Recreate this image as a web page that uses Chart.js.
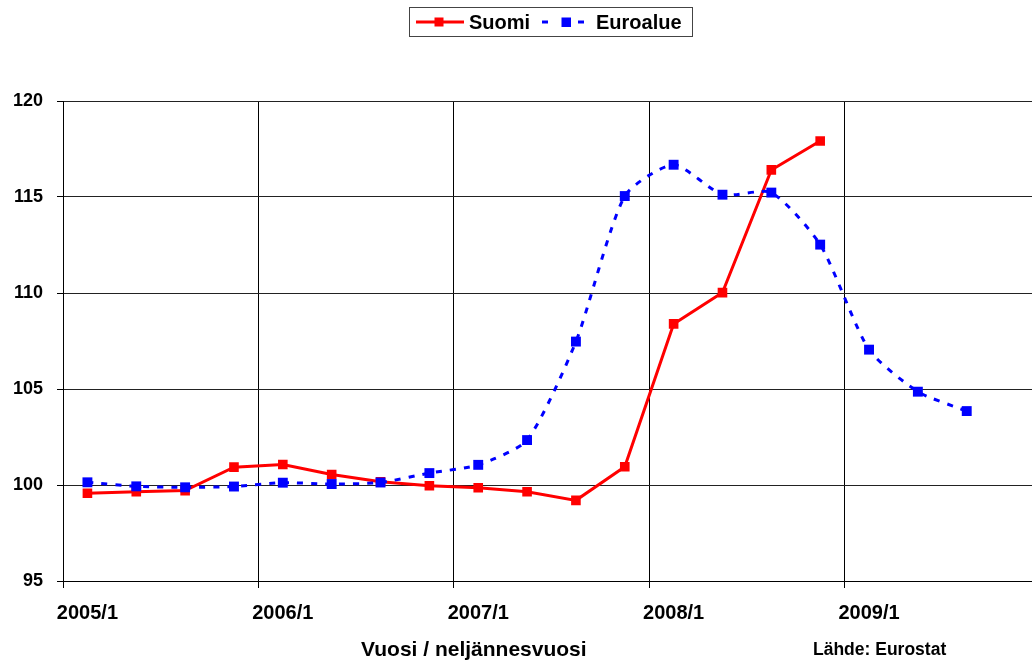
<!DOCTYPE html>
<html>
<head>
<meta charset="utf-8">
<script src="https://cdn.jsdelivr.net/npm/chart.js@4.4.1/dist/chart.umd.min.js"></script>
<style>
    body { margin: 0; overflow: hidden; background: #fff; }
    #wrap { position: relative; width: 1032px; height: 664px; overflow: hidden; }
    #chart { position: absolute; left: 0; top: 0; }
    .txt { position: absolute; font-family: 'Liberation Sans', Arial, sans-serif; font-weight: bold; color: #000; white-space: nowrap; }
    #legendBox { position: absolute; left: 409px; top: 7px; width: 282px; height: 28px; border: 1px solid #444; }
    #samples { position: absolute; left: 0; top: 0; }
</style>
</head>
<body>
<div id="wrap">
    <canvas id="chart" width="1047" height="664"></canvas>
    <div id="legendBox"></div>
    <svg id="samples" width="1032" height="45"></svg>
    <div class="txt" id="legSuomi" style="left:469px;top:12px;font-size:20px;line-height:20px"></div>
    <div class="txt" id="legEuro" style="left:596px;top:12px;font-size:20px;line-height:20px"></div>
    <div class="txt" style="left:361px;top:638px;font-size:21px;line-height:21px">Vuosi / neljännesvuosi</div>
    <div class="txt" style="left:813px;top:640px;font-size:17.5px;line-height:18px">Lähde: Eurostat</div>
</div>
<script>
const quarters = [
    '2005/1', '2005/2', '2005/3', '2005/4',
    '2006/1', '2006/2', '2006/3', '2006/4',
    '2007/1', '2007/2', '2007/3', '2007/4',
    '2008/1', '2008/2', '2008/3', '2008/4',
    '2009/1', '2009/2', '2009/3', '2009/4'
]
const shownTicks = ['2005/1', '2006/1', '2007/1', '2008/1', '2009/1']

const suomi = [99.57, 99.65, 99.71, 100.93, 101.07, 100.55, 100.17, 99.96,
    99.86, 99.65, 99.2, 100.95, 108.39, 110.02, 116.41, 117.92,
    null, null, null, null]
const euroalue = [100.14, 99.93, 99.88, 99.92, 100.12, 100.05, 100.13, 100.62,
    101.05, 102.34, 107.47, 115.05, 116.68, 115.12, 115.23, 112.52,
    107.05, 104.86, 103.85, null]

const RED = '#FF0000'
const BLUE = '#0000FF'
const FONT = "'Liberation Sans', Arial, sans-serif"

document.getElementById('legSuomi').textContent = 'Suomi'
document.getElementById('legEuro').textContent = 'Euroalue'

// legend samples
const svg = document.getElementById('samples')
svg.innerHTML = `
    <line x1="416" y1="22" x2="464" y2="22" stroke="${RED}" stroke-width="3"/>
    <rect x="434.5" y="17.5" width="9" height="9" fill="${RED}"/>
    <line x1="542" y1="22" x2="548" y2="22" stroke="${BLUE}" stroke-width="3"/>
    <rect x="561.5" y="17.5" width="9.5" height="9.5" fill="${BLUE}"/>
    <line x1="578" y1="22" x2="584" y2="22" stroke="${BLUE}" stroke-width="3"/>
`

const ctx = document.getElementById('chart').getContext('2d')

new Chart(ctx, {
    type: 'line',
    data: {
        labels: quarters,
        datasets: [
            {
                label: 'Suomi',
                data: suomi,
                borderColor: RED,
                backgroundColor: RED,
                borderWidth: 3,
                pointStyle: 'rect',
                pointRadius: 6.8,
                pointBorderWidth: 0,
                tension: 0,
                fill: false,
                order: 1
            },
            {
                label: 'Euroalue',
                data: euroalue,
                borderColor: BLUE,
                backgroundColor: BLUE,
                borderWidth: 3,
                borderDash: [6, 8],
                pointStyle: 'rect',
                pointRadius: 7,
                pointBorderWidth: 0,
                tension: 0.22,
                fill: false,
                order: 0
            }]
    },
    options: {
        responsive: false,
        animation: false,
        events: [],
        layout: { padding: { top: 101, right: 0, bottom: 0, left: 0 } },
        plugins: {
            legend: { display: false },
            tooltip: { enabled: false }
        },
        scales: {
            x: {
                offset: true,
                grid: {
                    offset: true,
                    color: c => c.index % 4 === 0 ? '#000' : 'rgba(0,0,0,0)',
                    tickColor: c => c.index % 4 === 0 ? '#000' : 'rgba(0,0,0,0)',
                    lineWidth: 1,
                    tickLength: 7
                },
                border: { color: '#000', width: 1 },
                ticks: {
                    autoSkip: false,
                    maxRotation: 0,
                    padding: 13,
                    color: '#000',
                    font: { family: FONT, size: 20, weight: 'bold' },
                    callback: function (v, i) {
                        const q = quarters[i]
                        return shownTicks.includes(q) ? q : ''
                    }
                },
                afterFit: s => { s.height = 83 }
            },
            y: {
                min: 95,
                max: 120,
                grid: { color: '#222', lineWidth: 1, tickLength: 6, tickColor: '#000' },
                border: { color: '#000', width: 1 },
                ticks: {
                    stepSize: 5,
                    padding: 14,
                    color: '#000',
                    font: { family: FONT, size: 18, weight: 'bold' }
                },
                afterFit: s => { s.width = 63 }
            }
        }
    }
})
</script>
</body>
</html>
